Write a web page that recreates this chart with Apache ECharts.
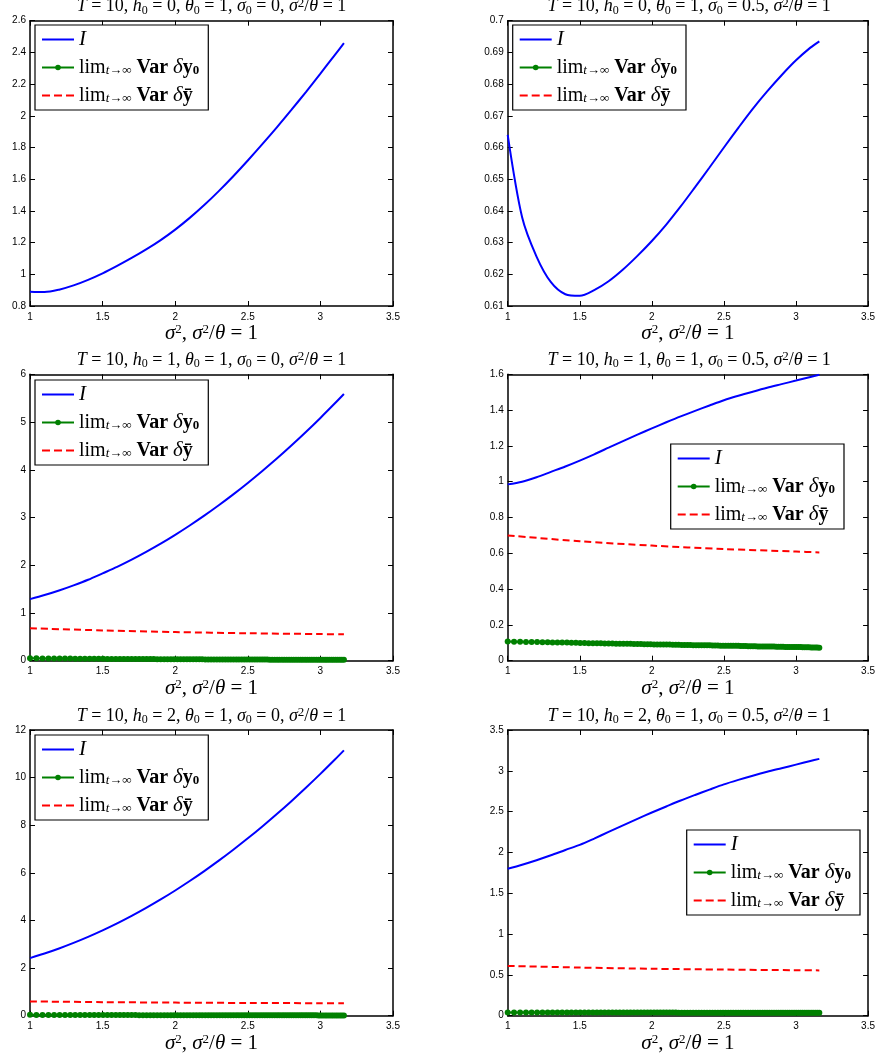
<!DOCTYPE html>
<html lang="en">
<head>
<meta charset="UTF-8">
<title>I vs sigma^2</title>
<script src="https://cdn.jsdelivr.net/npm/echarts@6/dist/echarts.min.js"></script>
<style>
    html, body { margin: 0; padding: 0; background: #fff; }
    #main { width: 878px; height: 1057px; }
</style>
</head>
<body>
<div id="main"></div>
<script>
// x values
var xLine = [1.0, 1.1, 1.2, 1.3, 1.4, 1.5, 1.6, 1.7, 1.8, 1.9, 2.0, 2.1, 2.2, 2.3, 2.4, 2.5, 2.6, 2.7, 2.8, 2.9, 3.0, 3.1, 3.162];
var xRed = [1.0, 1.5, 2.0, 2.5, 3.0, 3.162];
var xDots = [
    1.000, 1.044, 1.086, 1.127, 1.166, 1.204, 1.241, 1.277, 1.311, 1.345,
    1.378, 1.411, 1.442, 1.473, 1.503, 1.533, 1.562, 1.591, 1.619, 1.646,
    1.673, 1.700, 1.726, 1.752, 1.778, 1.803, 1.828, 1.852, 1.876, 1.900,
    1.924, 1.947, 1.970, 1.992, 2.015, 2.037, 2.059, 2.081, 2.102, 2.124,
    2.145, 2.166, 2.186, 2.207, 2.227, 2.247, 2.267, 2.287, 2.307, 2.326,
    2.345, 2.364, 2.383, 2.402, 2.421, 2.439, 2.458, 2.476, 2.494, 2.512,
    2.530, 2.548, 2.565, 2.583, 2.600, 2.617, 2.634, 2.651, 2.668, 2.685,
    2.702, 2.718, 2.735, 2.751, 2.768, 2.784, 2.800, 2.816, 2.832, 2.848,
    2.864, 2.879, 2.895, 2.910, 2.926, 2.941, 2.956, 2.972, 2.987, 3.002,
    3.017, 3.032, 3.046, 3.061, 3.076, 3.090, 3.105, 3.119, 3.134, 3.148,
    3.162
];

// panel parameters
var h0List = [0, 0, 1, 1, 2, 2];
var s0List = ['0', '0.5', '0', '0.5', '0', '0.5'];

// I (blue)
var iP1 = [0.890, 0.888, 0.903, 0.930, 0.965, 1.006, 1.053, 1.103, 1.157, 1.216, 1.282, 1.356, 1.437, 1.525, 1.619, 1.718, 1.821, 1.927, 2.037, 2.150, 2.266, 2.385, 2.458];
var iP2 = [0.6640, 0.6380, 0.6256, 0.6175, 0.6137, 0.6132, 0.6150, 0.6178, 0.6215, 0.6258, 0.6305, 0.6357, 0.6414, 0.6475, 0.6537, 0.6600, 0.6662, 0.6722, 0.6777, 0.6828, 0.6875, 0.6915, 0.6935];
var iP3 = [1.290, 1.375, 1.471, 1.579, 1.696, 1.830, 1.966, 2.117, 2.280, 2.452, 2.637, 2.833, 3.038, 3.256, 3.484, 3.724, 3.975, 4.235, 4.508, 4.791, 5.086, 5.392, 5.587];
var iP4 = [0.985, 1.000, 1.025, 1.055, 1.085, 1.118, 1.153, 1.190, 1.227, 1.263, 1.298, 1.332, 1.365, 1.396, 1.426, 1.455, 1.480, 1.503, 1.525, 1.545, 1.565, 1.585, 1.597];
var iP5 = [2.420, 2.611, 2.823, 3.056, 3.309, 3.582, 3.876, 4.191, 4.527, 4.882, 5.259, 5.656, 6.074, 6.512, 6.971, 7.450, 7.950, 8.471, 9.012, 9.574, 10.156, 10.759, 11.143];
var iP6 = [1.800, 1.850, 1.905, 1.965, 2.030, 2.093, 2.170, 2.251, 2.332, 2.412, 2.489, 2.563, 2.636, 2.704, 2.770, 2.834, 2.889, 2.940, 2.988, 3.032, 3.076, 3.120, 3.146];

// lim Var dy-bar (red dashed)
var rP1 = [];
var rP2 = [];
var rP3 = [0.680, 0.635, 0.600, 0.575, 0.558, 0.553];
var rP4 = [0.700, 0.667, 0.643, 0.624, 0.610, 0.605];
var rP5 = [0.600, 0.570, 0.550, 0.535, 0.525, 0.520];
var rP6 = [0.610, 0.590, 0.575, 0.565, 0.557, 0.555];

// lim Var dy0 (green dots)
var gP1 = [];
var gP2 = [];
var gP3 = [
    0.050, 0.049, 0.048, 0.047, 0.046, 0.045, 0.044, 0.044, 0.043, 0.042,
    0.041, 0.041, 0.040, 0.039, 0.039, 0.038, 0.038, 0.037, 0.037, 0.036,
    0.036, 0.035, 0.035, 0.034, 0.034, 0.033, 0.033, 0.033, 0.032, 0.032,
    0.031, 0.031, 0.031, 0.030, 0.030, 0.030, 0.029, 0.029, 0.029, 0.028,
    0.028, 0.028, 0.028, 0.027, 0.027, 0.027, 0.027, 0.026, 0.026, 0.026,
    0.026, 0.025, 0.025, 0.025, 0.025, 0.025, 0.024, 0.024, 0.024, 0.024,
    0.024, 0.023, 0.023, 0.023, 0.023, 0.023, 0.023, 0.022, 0.022, 0.022,
    0.022, 0.022, 0.022, 0.021, 0.021, 0.021, 0.021, 0.021, 0.021, 0.021,
    0.020, 0.020, 0.020, 0.020, 0.020, 0.020, 0.020, 0.020, 0.019, 0.019,
    0.019, 0.019, 0.019, 0.019, 0.019, 0.019, 0.019, 0.018, 0.018, 0.018,
    0.018
];
var gP4 = [
    0.107, 0.106, 0.106, 0.105, 0.104, 0.104, 0.103, 0.103, 0.102, 0.102,
    0.101, 0.101, 0.100, 0.100, 0.099, 0.099, 0.098, 0.098, 0.097, 0.097,
    0.096, 0.096, 0.096, 0.095, 0.095, 0.094, 0.094, 0.094, 0.093, 0.093,
    0.093, 0.092, 0.092, 0.092, 0.091, 0.091, 0.091, 0.090, 0.090, 0.090,
    0.089, 0.089, 0.089, 0.088, 0.088, 0.088, 0.088, 0.087, 0.087, 0.087,
    0.086, 0.086, 0.086, 0.086, 0.085, 0.085, 0.085, 0.084, 0.084, 0.084,
    0.084, 0.083, 0.083, 0.083, 0.083, 0.082, 0.082, 0.082, 0.081, 0.081,
    0.081, 0.081, 0.080, 0.080, 0.080, 0.080, 0.079, 0.079, 0.079, 0.079,
    0.078, 0.078, 0.078, 0.078, 0.077, 0.077, 0.077, 0.077, 0.076, 0.076,
    0.076, 0.076, 0.075, 0.075, 0.075, 0.075, 0.074, 0.074, 0.074, 0.074,
    0.073
];
var gP5 = [
    0.035, 0.034, 0.034, 0.033, 0.032, 0.032, 0.031, 0.031, 0.030, 0.030,
    0.029, 0.029, 0.028, 0.028, 0.027, 0.027, 0.027, 0.026, 0.026, 0.026,
    0.025, 0.025, 0.025, 0.024, 0.024, 0.024, 0.023, 0.023, 0.023, 0.023,
    0.022, 0.022, 0.022, 0.022, 0.021, 0.021, 0.021, 0.021, 0.020, 0.020,
    0.020, 0.020, 0.020, 0.019, 0.019, 0.019, 0.019, 0.019, 0.018, 0.018,
    0.018, 0.018, 0.018, 0.018, 0.017, 0.017, 0.017, 0.017, 0.017, 0.017,
    0.017, 0.016, 0.016, 0.016, 0.016, 0.016, 0.016, 0.016, 0.016, 0.015,
    0.015, 0.015, 0.015, 0.015, 0.015, 0.015, 0.015, 0.015, 0.014, 0.014,
    0.014, 0.014, 0.014, 0.014, 0.014, 0.014, 0.014, 0.014, 0.013, 0.013,
    0.013, 0.013, 0.013, 0.013, 0.013, 0.013, 0.013, 0.013, 0.013, 0.012,
    0.012
];
var gP6 = [
    0.040, 0.040, 0.040, 0.040, 0.040, 0.040, 0.040, 0.039, 0.039, 0.039,
    0.039, 0.039, 0.039, 0.039, 0.039, 0.039, 0.039, 0.039, 0.039, 0.039,
    0.039, 0.039, 0.039, 0.038, 0.038, 0.038, 0.038, 0.038, 0.038, 0.038,
    0.038, 0.038, 0.038, 0.038, 0.038, 0.038, 0.038, 0.038, 0.038, 0.038,
    0.038, 0.038, 0.037, 0.037, 0.037, 0.037, 0.037, 0.037, 0.037, 0.037,
    0.037, 0.037, 0.037, 0.037, 0.037, 0.037, 0.037, 0.037, 0.037, 0.037,
    0.037, 0.037, 0.037, 0.037, 0.037, 0.036, 0.036, 0.036, 0.036, 0.036,
    0.036, 0.036, 0.036, 0.036, 0.036, 0.036, 0.036, 0.036, 0.036, 0.036,
    0.036, 0.036, 0.036, 0.036, 0.036, 0.036, 0.036, 0.036, 0.036, 0.036,
    0.036, 0.036, 0.036, 0.036, 0.036, 0.036, 0.036, 0.036, 0.036, 0.036,
    0.036
];

// y axis ranges
var yMin = [0.8, 0.61, 0, 0, 0, 0];
var yMax = [2.6, 0.7, 6, 1.6, 12, 3.5];
var yStep = [0.2, 0.01, 1, 0.2, 2, 0.5];
var xMin = 1, xMax = 3.5, xStep = 0.5;

var iAll = [iP1, iP2, iP3, iP4, iP5, iP6];
var rAll = [rP1, rP2, rP3, rP4, rP5, rP6];
var gAll = [gP1, gP2, gP3, gP4, gP5, gP6];

var NAME_I = 'I';
var NAME_G = 'lim Var δy0';
var NAME_R = 'lim Var δȳ';

// layout
var colLeft = [30, 507.7];
var colWidth = 363;
var rowTop = [20.7, 374.3, 730];
var rowHeight = [285.3, 286.4, 285.7];
var legendPos = [[35, 25], [512.7, 25], [35, 380], [670.7, 444], [35, 735], [686.7, 830]];

var SERIF = "'Liberation Serif', 'DejaVu Serif', serif";
var SANS = "'Liberation Sans', Arial, sans-serif";

// legend icons without marker: solid bar and three dashes
var ICON_SOLID = 'path://M0,0h32v2h-32z';
var ICON_DASH = 'path://M0,0h8v2h-8z M12,0h8v2h-8z M24,0h8v2h-8z';

function pairs(xs, ys) {
    return ys.map(function (v, i) { return [xs[i], v]; });
}

function mathRich(fs, lh) {
    return {
        it: { fontFamily: SERIF, fontStyle: 'italic', fontSize: fs, lineHeight: lh, color: '#000' },
        sub: { fontFamily: SERIF, fontSize: 12, lineHeight: 10, verticalAlign: 'bottom', color: '#000' },
        sup: { fontFamily: SERIF, fontSize: 13, lineHeight: 10, verticalAlign: 'top', color: '#000' }
    };
}
function legendRich() {
    return {
        it: { fontFamily: SERIF, fontStyle: 'italic', fontSize: 21, lineHeight: 20, color: '#000' },
        rm: { fontFamily: SERIF, fontSize: 20, lineHeight: 20, color: '#000' },
        bf: { fontFamily: SERIF, fontWeight: 'bold', fontSize: 20, lineHeight: 20, color: '#000' },
        sub: { fontFamily: SERIF, fontStyle: 'italic', fontSize: 13, lineHeight: 10, verticalAlign: 'bottom', color: '#000' },
        bsub: { fontFamily: SERIF, fontWeight: 'bold', fontSize: 13, lineHeight: 10, verticalAlign: 'bottom', color: '#000' }
    };
}
function axLine() { return { show: true, onZero: false, lineStyle: { color: '#000', width: 1.5 } }; }
function axTick() { return { show: true, inside: true, length: 5, lineStyle: { color: '#000', width: 1 } }; }

function buildOption(safe) {
    var grids = [], xAxes = [], yAxes = [], series = [], titles = [], legends = [];
    for (var p = 0; p < 6; p++) {
        var col = p % 2, row = Math.floor(p / 2);
        var left = colLeft[col], top = rowTop[row];
        grids.push({ left: left, top: top, width: colWidth, height: rowHeight[row] });

        xAxes.push({
            type: 'value', gridIndex: p, min: xMin, max: xMax, interval: xStep, position: 'bottom',
            axisLine: axLine(), axisTick: axTick(), splitLine: { show: false },
            axisLabel: { margin: 6, color: '#000', fontFamily: SANS, fontSize: 10 },
            name: '{it|σ}{sup|2}, {it|σ}{sup|2}/{it|θ} = 1', nameLocation: 'middle', nameGap: 15,
            nameTextStyle: { fontFamily: SERIF, fontSize: 21, lineHeight: 22, color: '#000', rich: mathRich(21, 22) }
        });
        yAxes.push({
            type: 'value', gridIndex: p, min: yMin[p], max: yMax[p], interval: yStep[p], position: 'left',
            axisLine: axLine(), axisTick: axTick(), splitLine: { show: false },
            axisLabel: { margin: 4, color: '#000', fontFamily: SANS, fontSize: 10 }
        });

        series.push({
            type: 'line', name: NAME_I, xAxisIndex: p, yAxisIndex: p,
            data: pairs(xLine, iAll[p]), symbol: 'none', smooth: 0.3,
            lineStyle: { color: '#0000ff', width: 2 }, itemStyle: { color: '#0000ff' }
        });
        series.push({
            type: 'line', name: NAME_G, xAxisIndex: p, yAxisIndex: p,
            data: pairs(xDots, gAll[p]), symbol: 'circle', symbolSize: 6, showSymbol: true,
            lineStyle: { color: '#008000', width: 2 }, itemStyle: { color: '#008000' }
        });
        series.push({
            type: 'line', name: NAME_R, xAxisIndex: p, yAxisIndex: p,
            data: pairs(xRed, rAll[p]), symbol: 'none', smooth: 0.3,
            lineStyle: { color: '#ff0000', width: 2, type: [7, 4] }, itemStyle: { color: '#ff0000' }
        });

        var tTop = top - 24;
        if (safe && tTop < 0) tTop = 0;
        titles.push({
            text: '{it|T} = 10, {it|h}{sub|0} = ' + h0List[p] + ', {it|θ}{sub|0} = 1, {it|σ}{sub|0} = ' +
                s0List[p] + ', {it|σ}{sup|2}/{it|θ} = 1',
            left: left + colWidth / 2, top: tTop, textAlign: 'center', padding: 0,
            textStyle: { fontFamily: SERIF, fontSize: 18, lineHeight: 20, fontWeight: 'normal', color: '#000', rich: mathRich(18, 20) }
        });

        legends.push({
            data: [
                { name: NAME_I, icon: ICON_SOLID },
                NAME_G,
                { name: NAME_R, icon: ICON_DASH }
            ],
            left: legendPos[p][0], top: legendPos[p][1],
            orient: 'vertical', selectedMode: false,
            backgroundColor: '#fff', borderColor: '#000', borderWidth: 1.2,
            padding: [4, 9, 4, 6], itemGap: 7, itemWidth: 32, itemHeight: 7,
            formatter: function (name) {
                if (name === NAME_I) return '{it|I}';
                if (name === NAME_G) return '{rm|lim}{sub|t→∞} {bf|Var} {it|δ}{bf|y}{bsub|0}';
                return '{rm|lim}{sub|t→∞} {bf|Var} {it|δ}{bf|ȳ}';
            },
            textStyle: { fontFamily: SERIF, fontSize: 20, lineHeight: 20, color: '#000', rich: legendRich() }
        });
    }
    // mirrored axes (top / right) close the box and carry the inner ticks
    for (var q = 0; q < 6; q++) {
        xAxes.push({
            type: 'value', gridIndex: q, min: xMin, max: xMax, interval: xStep, position: 'top',
            axisLine: axLine(), axisTick: axTick(), splitLine: { show: false }, axisLabel: { show: false }
        });
        yAxes.push({
            type: 'value', gridIndex: q, min: yMin[q], max: yMax[q], interval: yStep[q], position: 'right',
            axisLine: axLine(), axisTick: axTick(), splitLine: { show: false }, axisLabel: { show: false }
        });
    }
    return {
        animation: false, backgroundColor: '#fff',
        title: titles, legend: legends, grid: grids, xAxis: xAxes, yAxis: yAxes, series: series
    };
}

var el = document.getElementById('main');
var myChart = echarts.init(el);
try {
    myChart.setOption(buildOption(false));
} catch (e) {
    console.log(e);
    myChart.dispose();
    myChart = echarts.init(el);
    myChart.setOption(buildOption(true));
}
</script>
</body>
</html>
